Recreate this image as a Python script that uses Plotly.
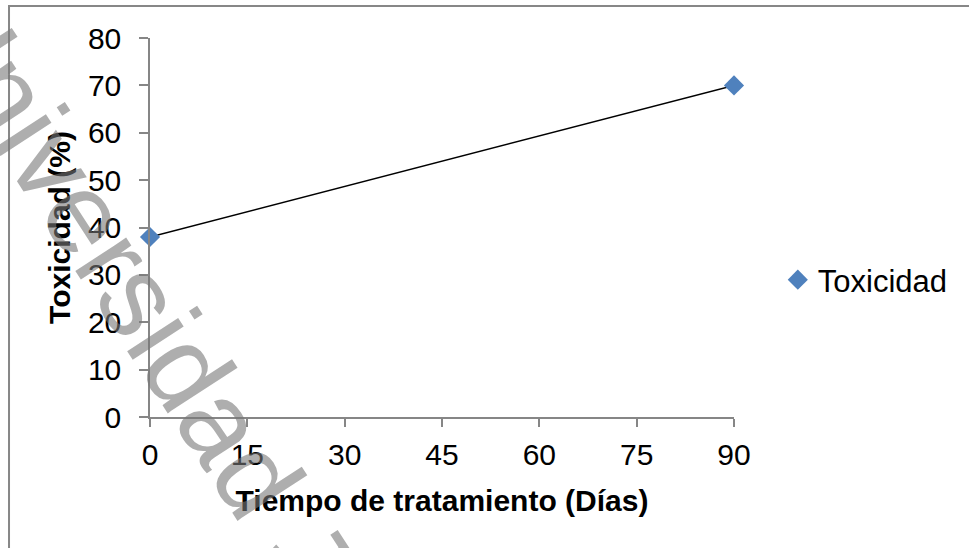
import plotly.graph_objects as go

# Data
dias = [0, 90]
toxicidad = [38, 70]
serie = "Toxicidad"
x_ticks = [0, 15, 30, 45, 60, 75, 90]
y_ticks = [0, 10, 20, 30, 40, 50, 60, 70, 80]
x_title = "Tiempo de tratamiento (Días)"
y_title = "Toxicidad (%)"
watermark = "Universidad Juárez"

FONT = "Liberation Sans, Arial, sans-serif"
AXIS_GRAY = "#868686"
BLUE = "#4F81BD"

fig = go.Figure()
# connecting line (not shown in legend)
fig.add_trace(go.Scatter(
    x=dias, y=toxicidad, mode="lines", showlegend=False, hoverinfo="skip",
    line=dict(color="black", width=1.5), cliponaxis=False,
))
# markers (legend entry)
fig.add_trace(go.Scatter(
    x=dias, y=toxicidad, name=serie, mode="markers",
    marker=dict(symbol="diamond", size=15.5, color=BLUE, line=dict(width=0)),
    cliponaxis=False,
))

fig.update_layout(
    width=969, height=548,
    margin=dict(l=150, r=235, t=37.5, b=130.7, pad=0, autoexpand=False),
    paper_bgcolor="white", plot_bgcolor="white",
    font=dict(family=FONT, color="black"),
    showlegend=True,
    legend=dict(
        x=1.075, y=0.3615, xanchor="left", yanchor="middle",
        font=dict(size=31, family=FONT, color="black"),
        bgcolor="rgba(0,0,0,0)", borderwidth=0,
    ),
    xaxis=dict(
        range=[0, 90], tickmode="array", tickvals=x_ticks,
        showgrid=False, zeroline=False, automargin=False,
        showline=True, linecolor=AXIS_GRAY, linewidth=1.5,
        ticks="outside", ticklen=8, tickwidth=1.5, tickcolor=AXIS_GRAY,
        tickfont=dict(size=30, family=FONT, color="black"),
        ticklabelstandoff=2,
        title=dict(text="<b>" + x_title + "</b>", font=dict(size=30, family=FONT, color="black"), standoff=20),
    ),
    yaxis=dict(
        range=[0, 80], tickmode="array", tickvals=y_ticks,
        showgrid=False, zeroline=False, automargin=False,
        showline=True, linecolor=AXIS_GRAY, linewidth=1.5,
        ticks="outside", ticklen=9, tickwidth=1.5, tickcolor=AXIS_GRAY,
        tickfont=dict(size=30, family=FONT, color="black"),
        ticklabelstandoff=12,
        title=dict(text="<b>" + y_title + "</b>", font=dict(size=30, family=FONT, color="black"), standoff=8),
    ),
)

# outer chart border (extends beyond the visible window on the right and bottom)
fig.add_shape(type="rect", xref="paper", yref="paper",
              x0=-0.2414, x1=1.45, y0=-0.40, y1=1.0843,
              line=dict(color="#878787", width=2), fillcolor="rgba(0,0,0,0)", layer="below")

# watermark
fig.add_annotation(
    text=watermark, xref="paper", yref="paper",
    x=0.107, y=0.021, xanchor="center", yanchor="middle",
    textangle=57, showarrow=False,
    font=dict(size=115, family=FONT, color="rgba(120,120,120,0.6)"),
)

fig.write_html("out.html", config={"displayModeBar": False},
               post_script="document.body.style.margin='0';document.body.style.overflow='hidden';")
